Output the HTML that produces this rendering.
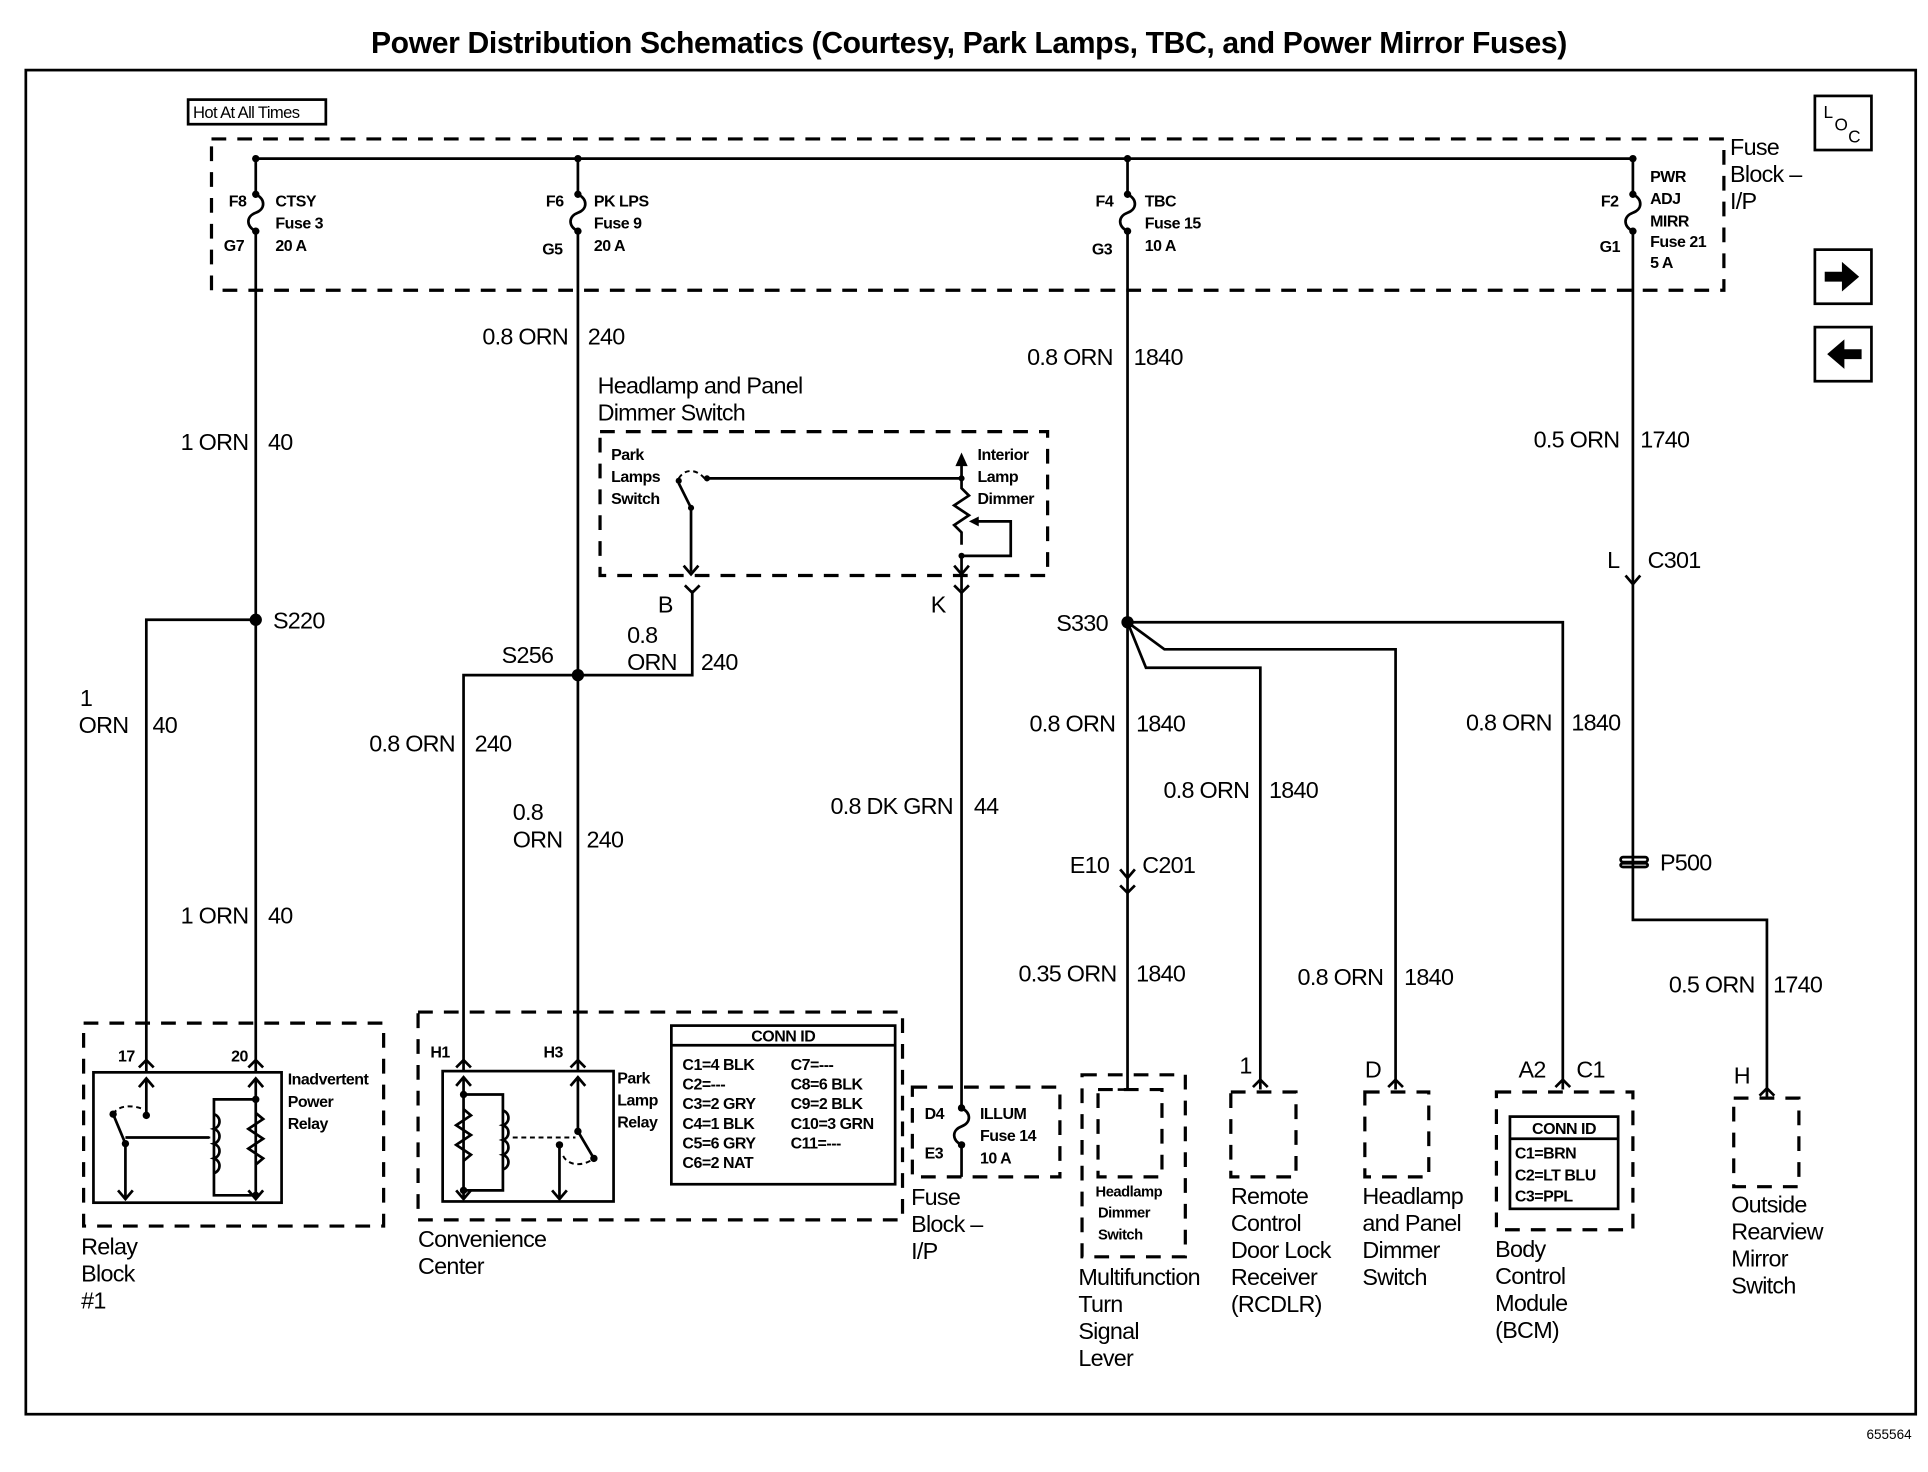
<!DOCTYPE html>
<html><head><meta charset="utf-8"><style>
html,body{margin:0;padding:0;background:#fff}
svg{display:block}
text{font-family:"Liberation Sans",sans-serif;fill:#000}
.b{font-size:19px;letter-spacing:-0.6px}
.s{font-size:13px;font-weight:bold;letter-spacing:-0.4px}
.w{stroke:#000;stroke-width:2.2;fill:none}
.d{stroke:#000;stroke-width:2.6;fill:none;stroke-dasharray:12,9}
.dt{stroke:#000;stroke-width:1.6;fill:none;stroke-dasharray:4,3}
</style></head><body>
<svg width="1928" height="1472" viewBox="0 0 1568 1197" preserveAspectRatio="none" xmlns="http://www.w3.org/2000/svg">
<rect x="21" y="57" width="1537" height="1093" class="w" stroke-width="2.5"/>
<text x="788" y="43" text-anchor="middle" style="font-size:24.5px;font-weight:bold;letter-spacing:-0.3px">Power Distribution Schematics (Courtesy, Park Lamps, TBC, and Power Mirror Fuses)</text>
<text x="1518" y="1170" style="font-size:11px">655564</text>
<rect x="153" y="81" width="112" height="20" class="w" stroke-width="2"/>
<text x="157" y="96" style="font-size:13.5px;letter-spacing:-0.5px">Hot At All Times</text>
<rect x="1476" y="78" width="46" height="44" class="w"/>
<text x="1483" y="96" style="font-size:14px">L</text><text x="1492" y="106" style="font-size:14px">O</text><text x="1503" y="116" style="font-size:14px">C</text>
<rect x="1476" y="203" width="46" height="44" class="w"/>
<path d="M1484 221h14v-8l14 12-14 12v-8h-14z" fill="#000"/>
<rect x="1476" y="266" width="46" height="44" class="w"/>
<path d="M1514 284h-14v-8l-14 12 14 12v-8h14z" fill="#000"/>
<rect x="172" y="113" width="1230" height="123" class="d"/>
<text class="b" x="1407" y="126">Fuse</text><text class="b" x="1407" y="148">Block –</text><text class="b" x="1407" y="170">I/P</text>
<path class="w" d="M208 129H1328"/>
<g class="w">
<path d="M208 129v29 M208 158c8 4 8 12 0 15c-8 3 -8 11 0 15 M208 188V862"/>
<path d="M470 129v29 M470 158c8 4 8 12 0 15c-8 3 -8 11 0 15 M470 188V862"/>
<path d="M917 129v29 M917 158c8 4 8 12 0 15c-8 3 -8 11 0 15 M917 188V862"/>
<path d="M1328 129v29 M1328 158c8 4 8 12 0 15c-8 3 -8 11 0 15 M1328 188V748H1437V885"/>
</g>
<g fill="#000">
<circle cx="208" cy="129" r="3"/><circle cx="470" cy="129" r="3"/><circle cx="917" cy="129" r="3"/><circle cx="1328" cy="129" r="3"/>
<circle cx="208" cy="158" r="3"/><circle cx="208" cy="188" r="3"/><circle cx="470" cy="158" r="3"/><circle cx="470" cy="188" r="3"/>
<circle cx="917" cy="158" r="3"/><circle cx="917" cy="188" r="3"/><circle cx="1328" cy="158" r="3"/><circle cx="1328" cy="188" r="3"/>
</g>
<g class="s">
<text x="186" y="168">F8</text><text x="182" y="204">G7</text><text x="224" y="168">CTSY</text><text x="224" y="186">Fuse 3</text><text x="224" y="204">20 A</text>
<text x="444" y="168">F6</text><text x="441" y="207">G5</text><text x="483" y="168">PK LPS</text><text x="483" y="186">Fuse 9</text><text x="483" y="204">20 A</text>
<text x="891" y="168">F4</text><text x="888" y="207">G3</text><text x="931" y="168">TBC</text><text x="931" y="186">Fuse 15</text><text x="931" y="204">10 A</text>
<text x="1302" y="168">F2</text><text x="1301" y="205">G1</text><text x="1342" y="148">PWR</text><text x="1342" y="166">ADJ</text><text x="1342" y="184">MIRR</text><text x="1342" y="201">Fuse 21</text><text x="1342" y="218">5 A</text>
</g>
<path class="w" d="M208 504H119V862"/>
<circle cx="208" cy="504" r="5" fill="#000"/>
<text class="b" x="222" y="511">S220</text>
<text class="b" x="202" y="366" text-anchor="end">1 ORN</text><text class="b" x="218" y="366">40</text>
<text class="b" x="202" y="751" text-anchor="end">1 ORN</text><text class="b" x="218" y="751">40</text>
<text class="b" x="65" y="574">1</text><text class="b" x="64" y="596">ORN</text><text class="b" x="124" y="596">40</text>
<path class="w" d="M470 549H377V862 M470 549H563V480"/>
<circle cx="470" cy="549" r="5" fill="#000"/>
<text class="b" x="408" y="539">S256</text>
<text class="b" x="462" y="280" text-anchor="end">0.8 ORN</text><text class="b" x="478" y="280">240</text>
<text class="b" x="370" y="611" text-anchor="end">0.8 ORN</text><text class="b" x="386" y="611">240</text>
<text class="b" x="417" y="667">0.8</text><text class="b" x="417" y="689">ORN</text><text class="b" x="477" y="689">240</text>
<text class="b" x="510" y="523">0.8</text><text class="b" x="510" y="545">ORN</text><text class="b" x="570" y="545">240</text>
<text class="b" x="486" y="320">Headlamp and Panel</text><text class="b" x="486" y="342">Dimmer Switch</text>
<rect x="488" y="351" width="364" height="117" class="d"/>
<g class="s"><text x="497" y="374">Park</text><text x="497" y="392">Lamps</text><text x="497" y="410">Switch</text>
<text x="795" y="374">Interior</text><text x="795" y="392">Lamp</text><text x="795" y="410">Dimmer</text></g>
<path class="w" d="M562 465V413L552 393 M575 389H782 M782 389V376"/>
<path d="M782 368l-5 11h10z" fill="#000"/>
<path class="dt" d="M552 389c5 -8 14 -8 21 0"/>
<circle cx="552" cy="391" r="2.5" fill="#000"/><circle cx="562" cy="413" r="2.5" fill="#000"/><circle cx="575" cy="389" r="2.5" fill="#000"/><circle cx="782" cy="389" r="2.5" fill="#000"/>
<path class="w" d="M782 389v8l6 6-12 8 12 8-12 8 6 6v10 M782 452h40v-28h-28 M782 452V480"/>
<path d="M788 424l8-4v8z" fill="#000"/>
<circle cx="782" cy="452" r="2.5" fill="#000"/>
<path class="w" d="M556 460l6 7 6-7 M776 460l6 7 6-7"/>
<path class="w" d="M557 476l6 6 6-6 M776 476l6 6 6-6"/>
<text class="b" x="535" y="498">B</text><text class="b" x="757" y="498">K</text>
<path class="w" d="M782 480V901 M782 901c8 4 8 12 0 15c-8 3 -8 11 0 15V957"/>
<circle cx="782" cy="901" r="3" fill="#000"/><circle cx="782" cy="931" r="3" fill="#000"/>
<text class="b" x="775" y="662" text-anchor="end">0.8 DK GRN</text><text class="b" x="792" y="662">44</text>
<rect x="742" y="884" width="120" height="73" class="d"/>
<g class="s"><text x="752" y="910">D4</text><text x="752" y="942">E3</text><text x="797" y="910">ILLUM</text><text x="797" y="928">Fuse 14</text><text x="797" y="946">10 A</text></g>
<text class="b" x="741" y="980">Fuse</text><text class="b" x="741" y="1002">Block –</text><text class="b" x="741" y="1024">I/P</text>
<path class="w" d="M917 506H1271V878 M917 506L947 528H1135V878 M917 506L932 543H1025V878"/>
<circle cx="917" cy="506" r="5" fill="#000"/>
<text class="b" x="859" y="513">S330</text>
<text class="b" x="905" y="297" text-anchor="end">0.8 ORN</text><text class="b" x="922" y="297">1840</text>
<text class="b" x="907" y="595" text-anchor="end">0.8 ORN</text><text class="b" x="924" y="595">1840</text>
<text class="b" x="1016" y="649" text-anchor="end">0.8 ORN</text><text class="b" x="1032" y="649">1840</text>
<text class="b" x="1125" y="801" text-anchor="end">0.8 ORN</text><text class="b" x="1142" y="801">1840</text>
<text class="b" x="1262" y="594" text-anchor="end">0.8 ORN</text><text class="b" x="1278" y="594">1840</text>
<text class="b" x="908" y="798" text-anchor="end">0.35 ORN</text><text class="b" x="924" y="798">1840</text>
<path class="w" d="M911 707l6 7 6-7 M911 720l6 6 6-6"/>
<text class="b" x="870" y="710">E10</text><text class="b" x="929" y="710">C201</text>
<text class="b" x="1317" y="364" text-anchor="end">0.5 ORN</text><text class="b" x="1334" y="364">1740</text>
<path class="w" d="M1322 468l6 7 6-7"/>
<text class="b" x="1307" y="462">L</text><text class="b" x="1340" y="462">C301</text>
<rect x="1318" y="697" width="22" height="4" class="w" stroke-width="1.8" rx="2"/><rect x="1318" y="702" width="22" height="3" class="w" stroke-width="1.8" rx="2"/>
<text class="b" x="1350" y="708">P500</text>
<text class="b" x="1427" y="807" text-anchor="end">0.5 ORN</text><text class="b" x="1442" y="807">1740</text>
<g class="w">
<path d="M113 868l6-6 6 6 M202 868l6-6 6 6 M371 868l6-6 6 6 M464 868l6-6 6 6 M1019 884l6-6 6 6 M1129 884l6-6 6 6 M1265 884l6-6 6 6 M1431 891l6-6 6 6"/>
<path d="M1025 878v8 M1135 878v8 M1271 878v8 M1437 885v8 M917 862v24 M909 886h16"/>
</g>
<rect x="68" y="832" width="244" height="165" class="d"/>
<rect x="76" y="872" width="153" height="106" class="w" stroke-width="3"/>
<g class="s"><text x="96" y="863">17</text><text x="188" y="863">20</text>
<text x="234" y="882">Inadvertent</text><text x="234" y="900">Power</text><text x="234" y="918">Relay</text></g>
<g class="w">
<path d="M119 862V872 M208 862V872"/>
<path d="M119 877V907 M102 930V975 M102 930L92 906 M208 877V975 M208 894H174V972H208 M102 925H170"/>
<path d="M174 906c6 2 6 10 0 12c6 2 6 10 0 12c6 2 6 10 0 12c6 2 6 10 0 12" />
<path d="M208 905l6 5-12 8 12 8-12 8 12 8-6 5"/>
<path d="M113 884l6-7 6 7 M202 884l6-7 6 7 M96 968l6 7 6-7 M202 968l6 7 6-7"/>
</g>
<path class="dt" d="M92 906c4-7 14-8 25-4 M104 925H172"/>
<g fill="#000"><circle cx="119" cy="907" r="3"/><circle cx="92" cy="906" r="3"/><circle cx="102" cy="930" r="3"/><circle cx="208" cy="894" r="3"/><circle cx="208" cy="972" r="3"/></g>
<text class="b" x="66" y="1020">Relay</text><text class="b" x="66" y="1042">Block</text><text class="b" x="66" y="1064">#1</text>
<rect x="340" y="823" width="394" height="169" class="d"/>
<rect x="360" y="871" width="139" height="106" class="w" stroke-width="3"/>
<g class="s"><text x="350" y="860">H1</text><text x="442" y="860">H3</text>
<text x="502" y="881">Park</text><text x="502" y="899">Lamp</text><text x="502" y="917">Relay</text></g>
<g class="w">
<path d="M377 862V871 M470 862V871"/>
<path d="M377 876V975 M377 890H409V968H377 M470 876V920 L483 942 M455 931V975"/>
<path d="M409 903c6 2 6 10 0 12c6 2 6 10 0 12c6 2 6 10 0 12c6 2 6 10 0 12"/>
<path d="M377 902l6 5-12 8 12 8-12 8 12 8-6 5"/>
<path d="M371 883l6-7 6 7 M464 883l6-7 6 7 M371 968l6 7 6-7 M449 968l6 7 6-7"/>
</g>
<path class="dt" d="M417 925H468 M458 940c4 8 16 9 25 2"/>
<g fill="#000"><circle cx="377" cy="890" r="3"/><circle cx="377" cy="968" r="3"/><circle cx="470" cy="920" r="3"/><circle cx="483" cy="942" r="3"/><circle cx="455" cy="931" r="3"/></g>
<rect x="546" y="834" width="182" height="129" class="w" stroke-width="2.6"/>
<path class="w" d="M546 850H728"/>
<g class="s"><text x="637" y="847" text-anchor="middle">CONN ID</text>
<text x="555" y="870">C1=4 BLK</text><text x="555" y="886">C2=---</text><text x="555" y="902">C3=2 GRY</text><text x="555" y="918">C4=1 BLK</text><text x="555" y="934">C5=6 GRY</text><text x="555" y="950">C6=2 NAT</text>
<text x="643" y="870">C7=---</text><text x="643" y="886">C8=6 BLK</text><text x="643" y="902">C9=2 BLK</text><text x="643" y="918">C10=3 GRN</text><text x="643" y="934">C11=---</text></g>
<text class="b" x="340" y="1014">Convenience</text><text class="b" x="340" y="1036">Center</text>
<rect x="880" y="874" width="84" height="148" class="d" stroke-dasharray="10,8"/>
<rect x="893" y="886" width="52" height="71" class="d" stroke-dasharray="10,8"/>
<g class="s" style="font-size:12px"><text x="891" y="973">Headlamp</text><text x="893" y="990">Dimmer</text><text x="893" y="1008">Switch</text></g>
<text class="b" x="877" y="1045">Multifunction</text><text class="b" x="877" y="1067">Turn</text><text class="b" x="877" y="1089">Signal</text><text class="b" x="877" y="1111">Lever</text>
<rect x="1001" y="888" width="53" height="69" class="d" stroke-dasharray="10,8"/>
<text class="b" x="1008" y="873">1</text>
<text class="b" x="1001" y="979">Remote</text><text class="b" x="1001" y="1001">Control</text><text class="b" x="1001" y="1023">Door Lock</text><text class="b" x="1001" y="1045">Receiver</text><text class="b" x="1001" y="1067">(RCDLR)</text>
<rect x="1110" y="888" width="52" height="69" class="d" stroke-dasharray="10,8"/>
<text class="b" x="1110" y="876">D</text>
<text class="b" x="1108" y="979">Headlamp</text><text class="b" x="1108" y="1001">and Panel</text><text class="b" x="1108" y="1023">Dimmer</text><text class="b" x="1108" y="1045">Switch</text>
<rect x="1217" y="888" width="111" height="112" class="d" stroke-dasharray="10,8"/>
<rect x="1228" y="908" width="88" height="75" class="w" stroke-width="2.6"/>
<path class="w" d="M1228 926H1316"/>
<g class="s"><text x="1272" y="922" text-anchor="middle">CONN ID</text><text x="1232" y="942">C1=BRN</text><text x="1232" y="960">C2=LT BLU</text><text x="1232" y="977">C3=PPL</text></g>
<text class="b" x="1235" y="876">A2</text><text class="b" x="1282" y="876">C1</text>
<text class="b" x="1216" y="1022">Body</text><text class="b" x="1216" y="1044">Control</text><text class="b" x="1216" y="1066">Module</text><text class="b" x="1216" y="1088">(BCM)</text>
<rect x="1410" y="893" width="53" height="72" class="d" stroke-dasharray="10,8"/>
<text class="b" x="1410" y="881">H</text>
<text class="b" x="1408" y="986">Outside</text><text class="b" x="1408" y="1008">Rearview</text><text class="b" x="1408" y="1030">Mirror</text><text class="b" x="1408" y="1052">Switch</text>
</svg>
</body></html>
